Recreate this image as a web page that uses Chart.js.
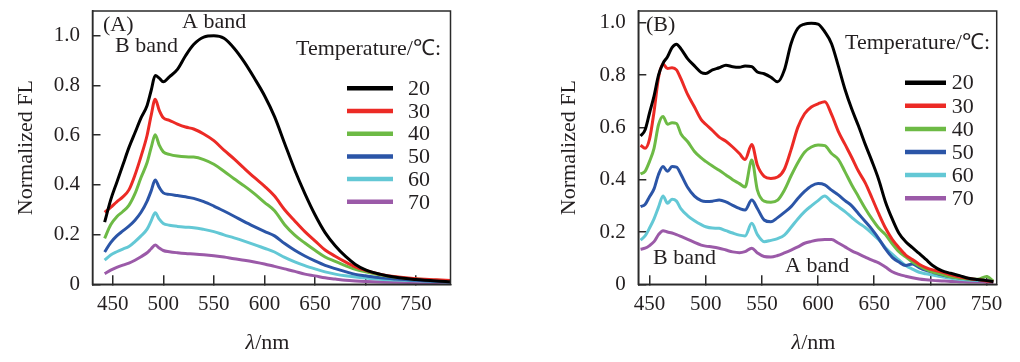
<!DOCTYPE html>
<html>
<head>
<meta charset="utf-8">
<script src="https://cdn.jsdelivr.net/npm/chart.js@4.4.1/dist/chart.umd.min.js"></script>
<style>
  body { margin: 0; background: #fff; }
  canvas { position: absolute; top: 0; }
  #chartA { left: 0; }
  #chartB { left: 510px; }
</style>
</head>
<body>
<canvas id="chartA" width="510" height="362"></canvas>
<canvas id="chartB" width="510" height="362"></canvas>
<script>
// temperature series, colours, ticks
const temps = ['20', '30', '40', '50', '60', '70'];
const lineColors = ['#000000', '#ec2a25', '#6dba45', '#2b55a7', '#63c8d5', '#9b5aa8'];
const yTicks = [0, 0.2, 0.4, 0.6, 0.8, 1.0];
const xTicks = [450, 500, 550, 600, 650, 700, 750];

// panel (A) wavelengths (nm) and normalized FL
const waveA = [442, 448, 454, 460, 466, 472, 478, 484, 488, 492, 496, 500, 506, 514, 522, 530, 540, 550, 560, 570,
  580, 590, 600, 610, 620, 630, 640, 650, 660, 670, 680, 690, 700, 715, 730, 750, 770, 784];
const fl20A = [.25, .34, .41, .48, .55, .61, .67, .72, .78, .84, .83, .815, .835, .865, .92, .965, .995, 1.0, .99, .95,
  .895, .83, .76, .675, .567, .46, .365, .28, .208, .155, .113, .08, .058, .04, .028, .019, .013, .01];
const fl30A = [.29, .31, .332, .352, .38, .44, .515, .60, .68, .745, .70, .67, .66, .645, .633, .625, .605, .578, .54, .505,
  .467, .43, .395, .355, .30, .255, .212, .175, .138, .113, .09, .07, .056, .04, .03, .022, .018, .015];
const fl40A = [.185, .24, .272, .293, .318, .365, .43, .49, .55, .602, .56, .533, .523, .516, .513, .512, .502, .483, .455, .425,
  .396, .365, .33, .296, .24, .198, .166, .137, .11, .092, .075, .06, .05, .037, .028, .021, .016, .013];
const fl50A = [.13, .168, .195, .215, .234, .258, .29, .335, .376, .42, .39, .368, .362, .357, .352, .346, .333, .315, .295, .274,
  .252, .232, .213, .195, .164, .137, .114, .094, .076, .063, .051, .04, .034, .026, .021, .016, .012, .009];
const fl60A = [.097, .118, .131, .142, .152, .172, .195, .222, .255, .288, .262, .245, .238, .233, .230, .228, .221, .212, .199, .187,
  .174, .16, .145, .13, .108, .09, .075, .062, .05, .041, .034, .029, .025, .02, .017, .014, .011, .009];
const fl70A = [.043, .057, .068, .077, .085, .097, .111, .127, .143, .158, .146, .136, .131, .127, .124, .122, .119, .115, .11, .103,
  .097, .09, .082, .072, .062, .052, .041, .034, .026, .021, .016, .013, .011, .009, .008, .007, .006, .005];

// panel (B)
const waveB = [442, 446, 450, 454, 458, 462, 466, 470, 474, 478, 484, 490, 496, 500, 506, 512, 518, 524, 530, 535,
  541, 546, 552, 558, 564, 570, 576, 582, 588, 594, 600, 606, 612, 618, 624, 630, 636, 642, 648, 654,
  660, 666, 672, 678, 684, 690, 696, 702, 710, 718, 726, 734, 742, 750, 756];
const fl20B = [.567, .59, .655, .72, .80, .845, .87, .905, .918, .90, .862, .835, .81, .806, .82, .828, .838, .832, .83, .835,
  .832, .812, .805, .792, .774, .819, .921, .979, .995, .998, .995, .965, .92, .835, .745, .67, .605, .535, .47, .40,
  .315, .25, .195, .163, .14, .118, .095, .072, .052, .042, .033, .023, .018, .014, .01];
const fl30B = [.532, .52, .555, .66, .79, .842, .825, .828, .82, .785, .725, .678, .63, .612, .588, .563, .547, .525, .50, .477,
  .535, .455, .413, .405, .41, .44, .515, .60, .652, .678, .69, .698, .65, .585, .535, .485, .432, .388, .33, .27,
  .215, .172, .14, .112, .095, .077, .064, .055, .047, .036, .028, .022, .018, .013, .01];
const fl40B = [.422, .432, .47, .52, .61, .642, .612, .618, .615, .575, .545, .508, .483, .47, .452, .436, .418, .40, .385, .372,
  .475, .36, .318, .314, .322, .36, .415, .465, .505, .525, .533, .53, .50, .478, .43, .38, .335, .29, .25, .215,
  .19, .155, .125, .105, .085, .07, .057, .047, .038, .029, .024, .02, .019, .03, .012];
const fl50B = [.297, .305, .335, .365, .42, .45, .432, .45, .448, .42, .37, .337, .32, .317, .318, .322, .315, .302, .29, .284,
  .322, .29, .246, .239, .255, .275, .297, .328, .355, .376, .385, .38, .36, .342, .32, .30, .27, .24, .21, .175,
  .135, .103, .085, .072, .078, .064, .053, .046, .036, .029, .024, .02, .017, .015, .01];
const fl60B = [.169, .185, .215, .25, .295, .338, .31, .325, .318, .288, .262, .243, .228, .22, .215, .214, .205, .196, .188, .185,
  .233, .19, .163, .168, .175, .188, .218, .25, .278, .30, .32, .338, .315, .297, .278, .256, .235, .217, .195, .17,
  .14, .115, .093, .072, .058, .046, .04, .035, .029, .023, .019, .016, .015, .015, .012];
const fl70B = [.134, .138, .148, .163, .19, .205, .2, .196, .19, .183, .172, .16, .15, .146, .143, .138, .131, .124, .121, .125,
  .138, .12, .106, .104, .11, .12, .131, .143, .157, .164, .169, .171, .171, .158, .143, .128, .116, .104, .092, .082,
  .066, .048, .038, .031, .025, .02, .017, .015, .013, .011, .01, .009, .009, .008, .008];

const serif = '"Liberation Serif", "Times New Roman", serif';
const inkColor = '#231f20';

// frame, notes, in-plot legend and x title
const panelDecor = {
  id: 'panelDecor',
  afterDraw(chart, args, opts) {
    const { ctx, chartArea: a } = chart;
    ctx.save();
    ctx.strokeStyle = '#2a2a2a';
    ctx.lineWidth = 1.5;
    ctx.strokeRect(a.left, a.top, a.right - a.left, a.bottom - a.top);

    ctx.fillStyle = inkColor;
    ctx.textBaseline = 'middle';
    ctx.textAlign = 'left';
    ctx.font = '22px ' + serif;
    opts.notes.forEach(n => ctx.fillText(n.text, a.left + n.dx, a.top + n.dy));

    const lg = opts.legend;
    ctx.fillText('Temperature/℃:', a.left + lg.titleDx, a.top + lg.titleDy);
    chart.data.datasets.forEach((ds, i) => {
      const y = a.top + lg.dy + i * lg.step;
      ctx.strokeStyle = ds.borderColor;
      ctx.lineWidth = 4.5;
      ctx.beginPath();
      ctx.moveTo(a.left + lg.x1, y);
      ctx.lineTo(a.left + lg.x2, y);
      ctx.stroke();
      ctx.fillText(ds.label, a.left + lg.tx, y + 1);
    });

    // x axis title, λ in italics
    const lam = 'λ', rest = '/nm';
    ctx.font = 'italic 22px ' + serif;
    const w1 = ctx.measureText(lam).width;
    ctx.font = '22px ' + serif;
    const w2 = ctx.measureText(rest).width;
    const x0 = (a.left + a.right) / 2 - 4 - (w1 + w2) / 2;
    ctx.font = 'italic 22px ' + serif;
    ctx.fillText(lam, x0, 343);
    ctx.font = '22px ' + serif;
    ctx.fillText(rest, x0 + w1, 343);
    ctx.restore();
  }
};

function makeChart(id, waves, series, xMin, xMax, yMax, pad, yWidth, decor) {
  const datasets = series.map((vals, i) => ({
    label: temps[i],
    data: waves.map((w, j) => ({ x: w, y: vals[j] })),
    borderColor: lineColors[i],
    backgroundColor: lineColors[i],
    borderWidth: 3,
    pointRadius: 0,
    cubicInterpolationMode: 'monotone',
    fill: false
  }));
  return new Chart(document.getElementById(id), {
    type: 'line',
    data: { datasets },
    plugins: [panelDecor],
    options: {
      responsive: false,
      animation: false,
      layout: { padding: pad },
      plugins: {
        legend: { display: false },
        tooltip: { enabled: false },
        panelDecor: decor
      },
      scales: {
        x: {
          type: 'linear',
          min: xMin,
          max: xMax,
          afterBuildTicks: s => { s.ticks = xTicks.map(v => ({ value: v })); },
          afterFit: s => { s.height = 77.7; s.paddingLeft = 0; s.paddingRight = 0; },
          border: { display: true, color: '#2a2a2a', width: 1.5 },
          grid: { drawOnChartArea: false, drawTicks: true, tickLength: -9, color: '#2a2a2a', lineWidth: 1.5 },
          ticks: { padding: 17, color: inkColor, font: { family: serif, size: 21 }, maxRotation: 0 }
        },
        y: {
          min: 0,
          max: yMax,
          afterBuildTicks: s => { s.ticks = yTicks.map(v => ({ value: v })); },
          afterFit: s => { s.width = yWidth; s.paddingTop = 0; s.paddingBottom = 0; },
          border: { display: true, color: '#2a2a2a', width: 1.5 },
          grid: { drawOnChartArea: false, drawTicks: true, tickLength: -8, color: '#2a2a2a', lineWidth: 1.5 },
          ticks: {
            padding: 20.5, color: inkColor, font: { family: serif, size: 21 },
            callback: v => (v === 0 ? '0' : v.toFixed(1))
          },
          title: {
            display: true, text: 'Normalized FL', color: inkColor,
            font: { family: serif, size: 22 }, padding: { top: 13, bottom: 0 }
          }
        }
      }
    }
  });
}

makeChart('chartA', waveA, [fl20A, fl30A, fl40A, fl50A, fl60A, fl70A], 430, 784, 1.1,
  { left: 0, right: 59.5, top: 11, bottom: 0 }, 92.5,
  {
    notes: [
      { text: '(A)', dx: 10.5, dy: 14 },
      { text: 'A band', dx: 89.5, dy: 11 },
      { text: 'B band', dx: 22.5, dy: 35 }
    ],
    legend: { titleDx: 203.5, titleDy: 38, x1: 254.5, x2: 300.5, tx: 315.5, dy: 77.3, step: 22.7 }
  });

makeChart('chartB', waveB, [fl20B, fl30B, fl40B, fl50B, fl60B, fl70B], 440, 759, 1.045,
  { left: 33, right: 23.3, top: 11, bottom: 0 }, 95.3,
  {
    notes: [
      { text: '(B)', dx: 7.7, dy: 14 },
      { text: 'B band', dx: 14.7, dy: 247 },
      { text: 'A band', dx: 146.7, dy: 255.7 }
    ],
    legend: { titleDx: 206.7, titleDy: 32, x1: 266.7, x2: 307.7, tx: 313.4, dy: 71.7, step: 23.1 }
  });
</script>
</body>
</html>
